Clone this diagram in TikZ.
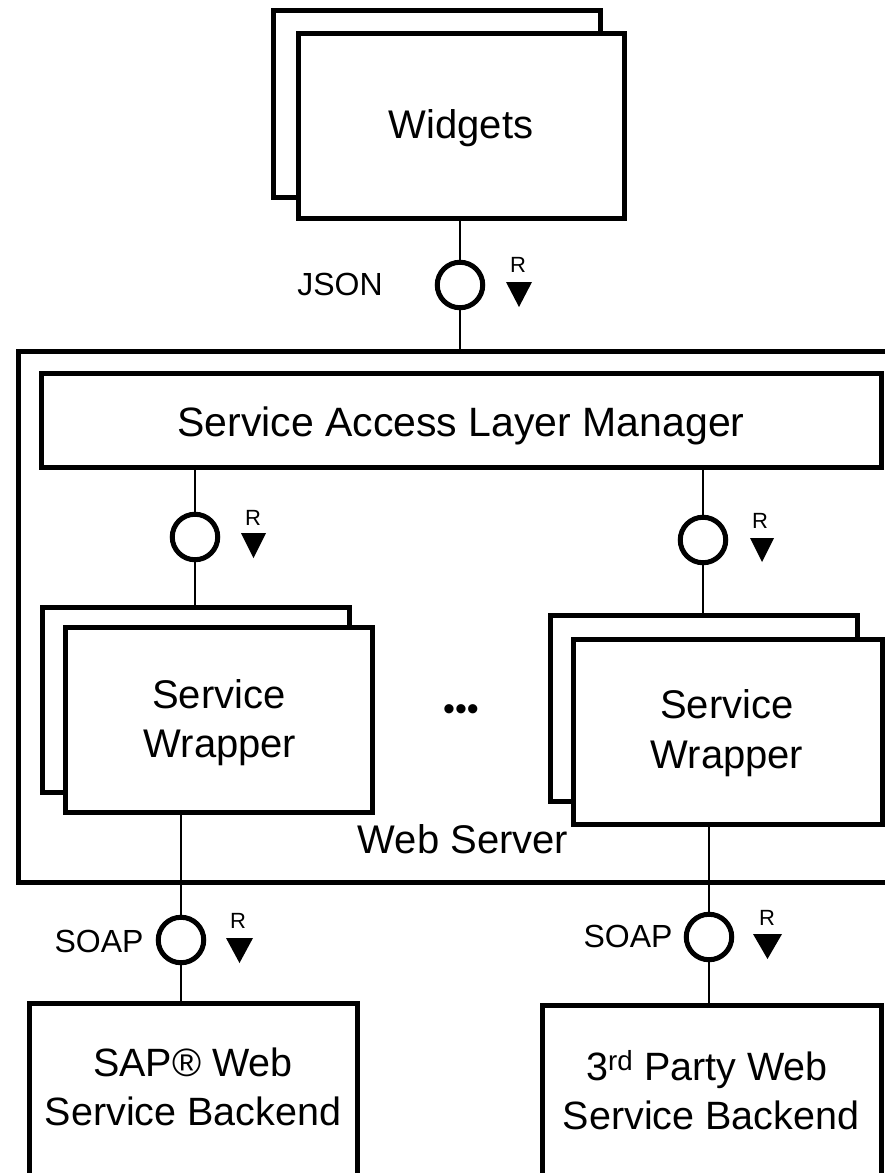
\documentclass[tikz,border=0pt]{standalone}
\usepackage{fontspec}
\setmainfont{Liberation Sans}
\usetikzlibrary{calc}
\begin{document}
\begin{tikzpicture}[x=1pt,y=-1pt,
  box/.style={draw,line width=5pt,fill=white,inner sep=0pt,outer sep=0pt,rectangle},
  conn/.style={line width=2.5pt},
  iface/.style={draw,circle,line width=5pt,fill=white,minimum size=45.5pt,inner sep=0pt,outer sep=0pt},
  big/.style={font=\fontsize{40}{48}\selectfont,inner sep=0pt,anchor=base},
  low/.style={font=\fontsize{39.5}{46}\selectfont,inner sep=0pt,anchor=base},
  mid/.style={font=\fontsize{32}{38}\selectfont,inner sep=0pt,anchor=base},
  rlab/.style={font=\fontsize{22}{26}\selectfont,inner sep=0pt,anchor=base}]
\clip (0,0) rectangle (885,1173);
\fill[white] (0,0) rectangle (885,1173);
% Widgets
\node[box,minimum width=327pt,minimum height=187pt] (wb) at (436.5,103.5) {};
\node[box,minimum width=326pt,minimum height=185pt] (wf) at (461,125.5) {};
\node[big] (wt) at (461,138) {Widgets};
% Web server container
\node[box,fill=none,minimum width=887pt,minimum height=531pt] (ws) at (461.5,616.5) {};
\node[big] (wst) at (463,853) {Web Server};
% Service Access Layer Manager
\node[box,minimum width=840pt,minimum height=94pt] (salm) at (461,420) {};
\node[big,font=\fontsize{41}{48}\selectfont] (salmt) at (461,436) {Service Access Layer Manager};
% Left wrapper
\node[box,minimum width=307pt,minimum height=185pt] (lb) at (195.5,699.5) {};
\node[box,minimum width=307pt,minimum height=185pt] (lf) at (218.5,719.5) {};
\node[big] (lt1) at (219,708) {Service};
\node[big] (lt2) at (220,757) {Wrapper};
% Right wrapper
\node[box,minimum width=307pt,minimum height=186pt] (rb) at (703.5,708) {};
\node[box,minimum width=309pt,minimum height=185pt] (rf) at (727.5,731.5) {};
\node[big] (rt1) at (727,718) {Service};
\node[big] (rt2) at (727,768) {Wrapper};
% ellipsis
\node[font=\fontsize{34}{40}\selectfont,inner sep=0pt,anchor=base] (dots) at (461,720) {•••};
% Backends
\node[box,minimum width=328pt,minimum height=200pt] (sap) at (193,1103) {};
\node[low] (sapt1) at (193,1076) {SAP® Web};
\node[low] (sapt2) at (193,1125) {Service Backend};
\node[box,minimum width=339pt,minimum height=200pt] (tp) at (711.5,1105) {};
\node[low] (tpt1) at (707,1080) {3\textsuperscript{rd} Party Web};
\node[low] (tpt2) at (711,1129) {Service Backend};
% Interfaces
\node[iface] (c1) at (460,285) {};
\node[iface] (c2) at (195,537) {};
\node[iface] (c3) at (703,540) {};
\node[iface] (c4) at (181,940) {};
\node[iface] (c5) at (709,937) {};
% Connectors
\draw[conn] (wf.south -| c1) -- (c1) -- (c1 |- ws.north);
\draw[conn] (salm.south -| c2) -- (c2) -- (c2 |- lb.north);
\draw[conn] (salm.south -| c3) -- (c3) -- (c3 |- rb.north);
\draw[conn] (lf.south -| c4) -- (c4) -- (c4 |- sap.north);
\draw[conn] (rf.south -| c5) -- (c5) -- (c5 |- tp.north);
% Interface labels
\node[mid] (json) at (340,295) {JSON};
\node[mid] (soap1) at (99,952) {SOAP};
\node[mid] (soap2) at (628,947) {SOAP};
% Direction marks
\node[rlab] (r1) at (518,272) {R};
\fill ($(c1)+(46,-3)$) -- ($(c1)+(72,-3)$) -- ($(c1)+(59,22)$) -- cycle;
\node[rlab] (r2) at (253,525) {R};
\fill ($(c2)+(46,-4)$) -- ($(c2)+(71,-4)$) -- ($(c2)+(58.5,21)$) -- cycle;
\node[rlab] (r3) at (760,528) {R};
\fill ($(c3)+(47,-2)$) -- ($(c3)+(71,-2)$) -- ($(c3)+(59,22)$) -- cycle;
\node[rlab] (r4) at (238,928) {R};
\fill ($(c4)+(45,-2)$) -- ($(c4)+(72,-2)$) -- ($(c4)+(58.5,23)$) -- cycle;
\node[rlab] (r5) at (767,925) {R};
\fill ($(c5)+(44,-3)$) -- ($(c5)+(73,-3)$) -- ($(c5)+(58.5,22)$) -- cycle;
\end{tikzpicture}
\end{document}
